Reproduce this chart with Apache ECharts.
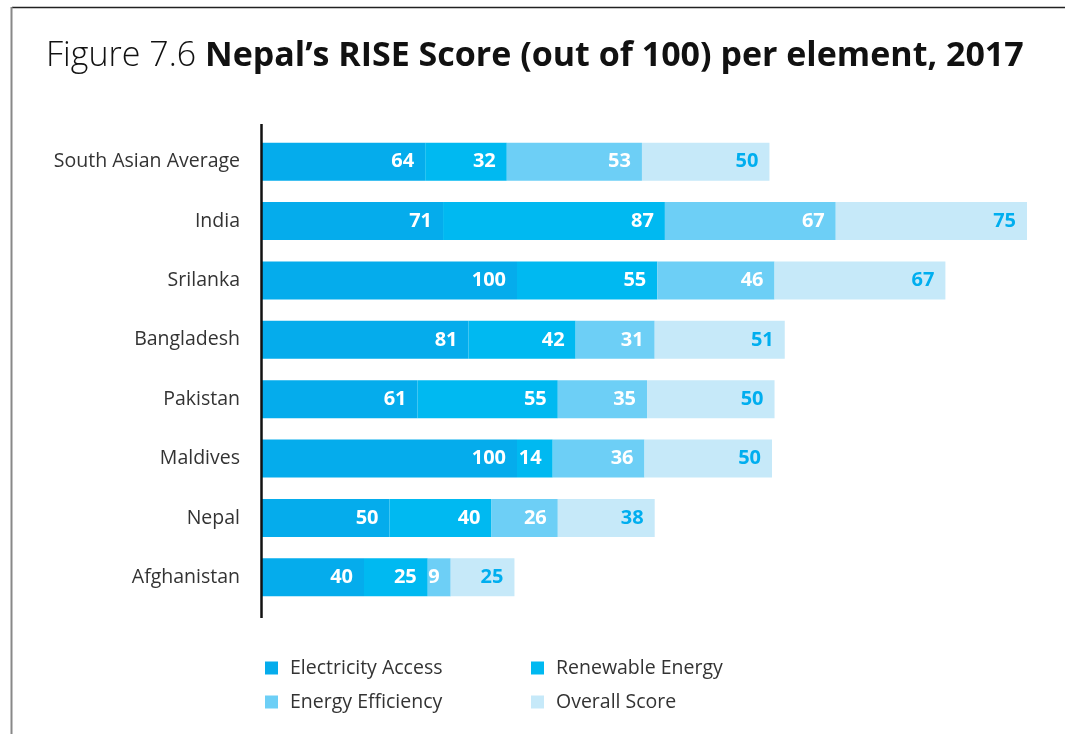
<!DOCTYPE html>
<html>
<head>
<meta charset="utf-8">
<title>Nepal's RISE Score per element, 2017</title>
<script src="https://cdn.jsdelivr.net/npm/echarts@6/dist/echarts.min.js"></script>
<style>
  html, body { margin: 0; padding: 0; background: #ffffff; }
  #chart { width: 1065px; height: 734px; }
</style>
</head>
<body>
<div id="chart"></div>
<script>
// Countries, listed top to bottom
const categories = ['South Asian Average', 'India', 'Srilanka', 'Bangladesh', 'Pakistan', 'Maldives', 'Nepal', 'Afghanistan'];

// RISE scores (out of 100) per element
const electricityAccess = [64, 71, 100, 81, 61, 100, 50, 40];
const renewableEnergy   = [32, 87, 55, 42, 55, 14, 40, 25];
const energyEfficiency  = [53, 67, 46, 31, 35, 36, 26, 9];
const overallScore      = [50, 75, 67, 51, 50, 50, 38, 25];

const seriesNames = ['Electricity Access', 'Renewable Energy', 'Energy Efficiency', 'Overall Score'];
const seriesColors = ['#05acec', '#00b9f1', '#6dcff6', '#c6e9f9'];
const seriesData = [electricityAccess, renewableEnergy, energyEfficiency, overallScore];

const FONT = '"Open Sans", "Noto Sans", sans-serif';

const chart = echarts.init(document.getElementById('chart'), null, { renderer: 'canvas' });

const series = seriesNames.map((name, i) => ({
  name: name,
  type: 'bar',
  stack: 'rise',
  barWidth: 38,
  data: seriesData[i],
  itemStyle: { color: seriesColors[i] },
  label: {
    show: true,
    position: 'insideRight',
    distance: 11,
    color: i === 3 ? '#00aeef' : '#ffffff',
    fontFamily: FONT,
    fontWeight: 'bold',
    fontSize: 20
  },
  emphasis: { disabled: true }
}));

const legendText = {
  color: '#333333',
  fontFamily: FONT,
  fontSize: 19.5,
  lineHeight: 20,
  padding: [0, 0, 0, 7]
};

chart.setOption({
  animation: false,
  backgroundColor: '#ffffff',
  title: {
    text: '{light|Figure 7.6 }{bold|Nepal\u2019s RISE Score (out of 100) per element, 2017}',
    left: 41,
    top: 34,
    textStyle: {
      rich: {
        light: { fontFamily: FONT, fontWeight: 300, fontSize: 34, color: '#111111' },
        bold: { fontFamily: FONT, fontWeight: 'bold', fontSize: 34, color: '#111111' }
      }
    }
  },
  grid: { left: 262, right: 38, top: 132, bottom: 127 },
  xAxis: {
    type: 'value',
    min: 0,
    max: 300,
    show: false
  },
  yAxis: {
    type: 'category',
    data: categories,
    inverse: true,
    axisLine: { show: false },
    axisTick: { show: false },
    axisLabel: {
      margin: 22,
      color: '#333333',
      fontFamily: FONT,
      fontSize: 19.5
    }
  },
  legend: [
    {
      data: ['Electricity Access', 'Energy Efficiency'],
      orient: 'vertical',
      left: 260,
      top: 653,
      itemWidth: 13,
      itemHeight: 13,
      itemGap: 14,
      icon: 'rect',
      selectedMode: false,
      textStyle: legendText
    },
    {
      data: ['Renewable Energy', 'Overall Score'],
      orient: 'vertical',
      left: 526,
      top: 653,
      itemWidth: 13,
      itemHeight: 13,
      itemGap: 14,
      icon: 'rect',
      selectedMode: false,
      textStyle: legendText
    }
  ],
  graphic: [
    // frame around the figure
    { type: 'line', shape: { x1: 12, y1: 7.5, x2: 1065, y2: 7.5 }, style: { stroke: '#222222', lineWidth: 1.5 } },
    { type: 'line', shape: { x1: 11.5, y1: 7, x2: 11.5, y2: 734 }, style: { stroke: '#888888', lineWidth: 2 } },
    // vertical axis rule
    { type: 'line', shape: { x1: 261.5, y1: 124, x2: 261.5, y2: 618 }, style: { stroke: '#111111', lineWidth: 2.5 }, z: 10 }
  ],
  series: series
});
</script>
</body>
</html>
